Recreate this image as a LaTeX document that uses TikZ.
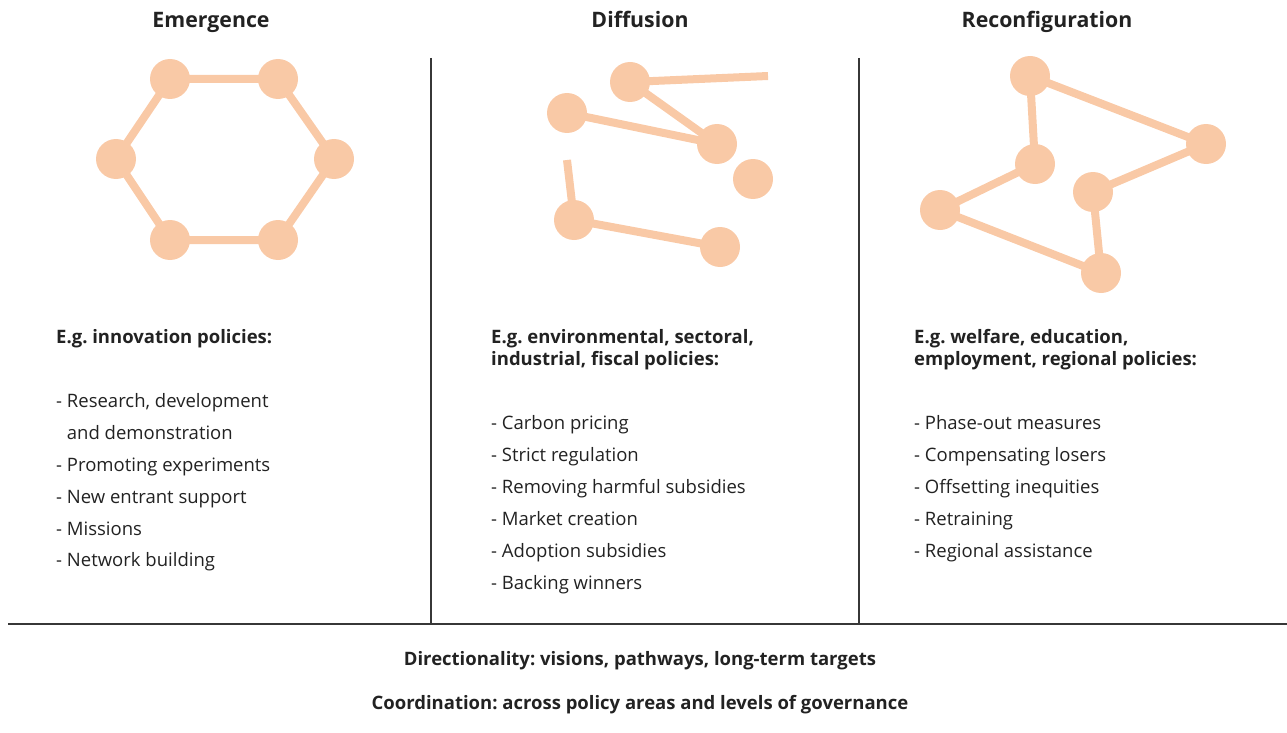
\documentclass[tikz,border=0pt]{standalone}
\usepackage{fontspec}
\setmainfont{Open Sans}
\usetikzlibrary{positioning}
\frenchspacing
\definecolor{dotcolor}{RGB}{249,201,166}
\definecolor{textcolor}{RGB}{34,34,34}
\definecolor{rulecolor}{RGB}{55,55,55}
\tikzset{
  dot/.style={circle, fill=dotcolor, minimum size=40pt, inner sep=0pt},
  link/.style={draw=dotcolor, line width=8pt},
  heading/.style={anchor=base, font=\bfseries\fontsize{21.3}{26}\selectfont, text=textcolor, inner sep=0pt},
  lead/.style={anchor=base west, font=\bfseries\fontsize{18.5}{22}\selectfont, text=textcolor, inner sep=0pt},
  item/.style={anchor=base west, font=\fontsize{18.5}{22}\selectfont, text=textcolor, inner sep=0pt},
  foot/.style={anchor=base, font=\bfseries\fontsize{18.5}{22}\selectfont, text=textcolor, inner sep=0pt}
}
\begin{document}
\begin{tikzpicture}[x=1pt, y=-1pt]
        \useasboundingbox (0,0) rectangle (1287,733);

        % column titles
        \node[heading] (emergence) at (211,28) {Emergence};
        \node[heading] (diffusion) at (640,28) {Diffusion};
        \node[heading] (reconfig) at (1047,28) {Reconfiguration};

        % emergence: closed ring
        \node[dot] (e1) at (170,79) {};
        \node[dot] (e2) at (278,79) {};
        \node[dot] (e3) at (334,159) {};
        \node[dot] (e4) at (278,240) {};
        \node[dot] (e5) at (170,240) {};
        \node[dot] (e6) at (116,159) {};
        \draw[link] (e1.center) -- (e2.center) -- (e3.center) -- (e4.center)
                -- (e5.center) -- (e6.center) -- cycle;

        % diffusion: broken links
        \node[dot] (d1) at (630,82) {};
        \node[dot] (d2) at (567,113) {};
        \node[dot] (d3) at (717,144) {};
        \node[dot] (d4) at (753,179) {};
        \node[dot] (d5) at (574,220) {};
        \node[dot] (d6) at (720,247) {};
        \coordinate (d1end) at (768,76);
        \coordinate (d5end) at (567,160);
        \draw[link] (d1.center) -- (d1end);
        \draw[link] (d1.center) -- (d3.center);
        \draw[link] (d2.center) -- (d3.center);
        \draw[link] (d5end) -- (d5.center) -- (d6.center);

        % reconfiguration: rewired ring
        \node[dot] (r1) at (1030,76) {};
        \node[dot] (r2) at (1206,144) {};
        \node[dot] (r3) at (1035,164) {};
        \node[dot] (r4) at (1093,192) {};
        \node[dot] (r5) at (940,210) {};
        \node[dot] (r6) at (1101,273) {};
        \draw[link] (r2.center) -- (r1.center) -- (r3.center) -- (r5.center)
                -- (r6.center) -- (r4.center) -- (r2.center);

        % rules
        \coordinate (top1) at (431,58);
        \coordinate (bot1) at (431,624);
        \coordinate (top2) at (859,58);
        \coordinate (bot2) at (859,624);
        \coordinate (left) at (8,624);
        \coordinate (right) at (1287,624);
        \draw[rulecolor, line width=1.5pt] (top1) -- (bot1);
        \draw[rulecolor, line width=1.5pt] (top2) -- (bot2);
        \draw[rulecolor, line width=1.5pt] (left) -- (right);

        % emergence policies
        \node[lead] (lead1) at (56,343) {E.g. innovation policies:};
        \node[item] (a1) at (56,407) {- Research, development};
        \node[item] (a2) at (56,439) {\hphantom{-} and demonstration};
        \node[item] (a3) at (56,471) {- Promoting experiments};
        \node[item] (a4) at (56,503) {- New entrant support};
        \node[item] (a5) at (56,535) {- Missions};
        \node[item] (a6) at (56,566) {- Network building};

        % diffusion policies
        \node[lead] (lead2a) at (491,343) {E.g. environmental, sectoral,};
        \node[lead] (lead2b) at (491,365) {industrial, fiscal policies:};
        \node[item] (b1) at (491,429) {- Carbon pricing};
        \node[item] (b2) at (491,461) {- Strict regulation};
        \node[item] (b3) at (491,493) {- Removing harmful subsidies};
        \node[item] (b4) at (491,525) {- Market creation};
        \node[item] (b5) at (491,557) {- Adoption subsidies};
        \node[item] (b6) at (491,589) {- Backing winners};

        % reconfiguration policies
        \node[lead] (lead3a) at (914,343) {E.g. welfare, education,};
        \node[lead] (lead3b) at (914,365) {employment, regional policies:};
        \node[item] (c1) at (914,429) {- Phase-out measures};
        \node[item] (c2) at (914,461) {- Compensating losers};
        \node[item] (c3) at (914,493) {- Offsetting inequities};
        \node[item] (c4) at (914,525) {- Retraining};
        \node[item] (c5) at (914,557) {- Regional assistance};

        % cross-cutting
        \node[foot] (direction) at (640,665) {Directionality: visions, pathways, long-term targets};
        \node[foot] (coord) at (640,709) {Coordination: across policy areas and levels of governance};
\end{tikzpicture}
\end{document}
